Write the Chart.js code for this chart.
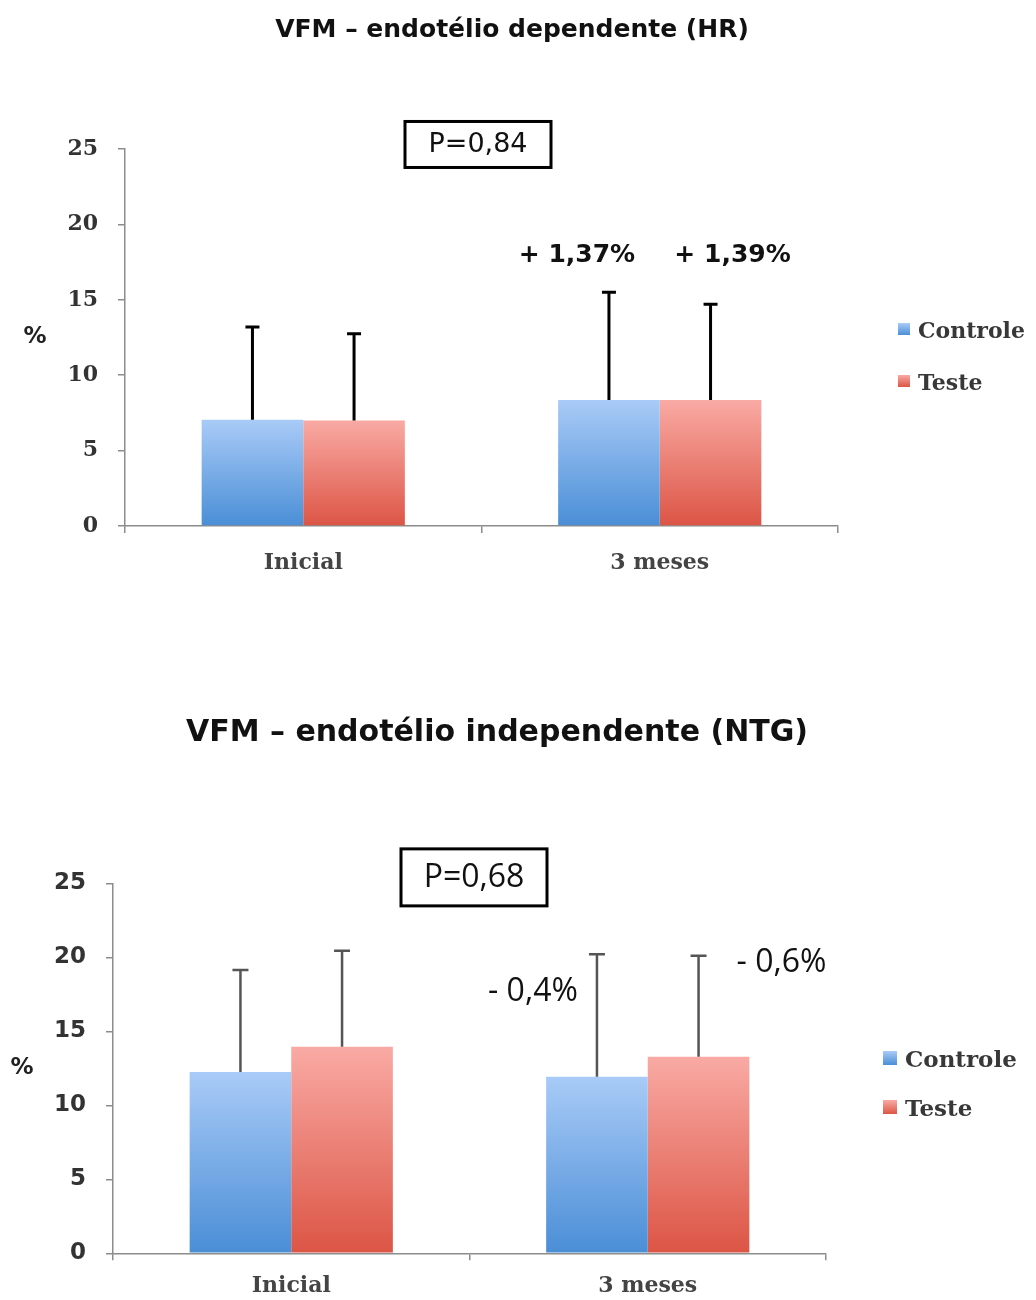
<!DOCTYPE html>
<html>
<head>
<meta charset="utf-8">
<script src="https://cdn.jsdelivr.net/npm/chart.js@4/dist/chart.umd.min.js"></script>
<style>
  body { margin: 0; background: #fff; }
  #wrap { position: relative; width: 1036px; height: 1300px; overflow: hidden; }
  canvas { position: absolute; left: 0; }
  #hr { top: 0; }
  #ntg { top: 640px; }
</style>
</head>
<body>
<div id="wrap">
  <canvas id="hr" width="1036" height="600"></canvas>
  <canvas id="ntg" width="1036" height="660"></canvas>
</div>
<script>
// data
const categories = ['Inicial', '3 meses'];
const seriesNames = ['Controle', 'Teste'];
const yTicks = [0, 5, 10, 15, 20, 25];

// endotélio dependente (HR)
const hrControle = [7.05, 8.35];
const hrTeste = [7.0, 8.35];
const hrControleErr = [13.2, 15.5];   // top of the error bar
const hrTesteErr = [12.75, 14.7];
const hrChange = ['+ 1,37%', '+ 1,39%'];
const hrP = 'P=0,84';

// endotélio independente (NTG)
const ntgControle = [12.25, 11.93];
const ntgTeste = [13.95, 13.28];
const ntgControleErr = [19.15, 20.2];
const ntgTesteErr = [20.45, 20.1];
const ntgChange = ['- 0,4%', '- 0,6%'];
const ntgP = 'P=0,68';

const blue = ['#a9cbf7', '#4a8ed6'];
const red = ['#f9aaa4', '#dc5545'];

function barGradient(c) {
    return function (ctx) {
        const chart = ctx.chart;
        if (!chart.chartArea || ctx.type !== 'data') return c[1];
        const y = chart.scales.y;
        const g = chart.ctx.createLinearGradient(0, y.getPixelForValue(ctx.raw), 0, y.getPixelForValue(0));
        g.addColorStop(0, c[0]);
        g.addColorStop(1, c[1]);
        return g;
    };
}

// error bars (upper half only) from dataset.errTop
const errorBars = {
    id: 'errorBars',
    afterDatasetsDraw(chart, args, opts) {
        const ctx = chart.ctx, y = chart.scales.y;
        ctx.save();
        ctx.strokeStyle = opts.color;
        ctx.lineWidth = opts.width;
        chart.data.datasets.forEach((ds, di) => {
            chart.getDatasetMeta(di).data.forEach((bar, i) => {
                const top = y.getPixelForValue(ds.errTop[i]);
                ctx.beginPath();
                ctx.moveTo(bar.x, bar.y);
                ctx.lineTo(bar.x, top);
                ctx.moveTo(bar.x - opts.cap / 2, top);
                ctx.lineTo(bar.x + opts.cap / 2, top);
                ctx.stroke();
            });
        });
        ctx.restore();
    }
};

// title, P box, change labels, "%" and the legend
const notes = {
    id: 'notes',
    afterDraw(chart, args, o) {
        const ctx = chart.ctx, x = chart.scales.x, y = chart.scales.y, area = chart.chartArea;
        ctx.save();
        ctx.textAlign = 'center';
        ctx.textBaseline = 'middle';

        // title
        ctx.fillStyle = '#111';
        ctx.font = o.titleFont;
        ctx.fillText(o.title, o.titleX, o.titleY);

        // P box
        const px = x.getPixelForValue(0.5) + o.pShift, py = y.getPixelForValue(o.pAt);
        ctx.fillStyle = '#fff';
        ctx.fillRect(px - o.pBox[0] / 2, py - o.pBox[1] / 2, o.pBox[0], o.pBox[1]);
        ctx.strokeStyle = '#000';
        ctx.lineWidth = 3;
        ctx.strokeRect(px - o.pBox[0] / 2, py - o.pBox[1] / 2, o.pBox[0], o.pBox[1]);
        ctx.fillStyle = '#111';
        ctx.font = o.pFont;
        ctx.fillText(o.pText, px, py + 1);

        // change labels over the 3 meses bars
        ctx.font = o.changeFont;
        o.change.forEach((t, di) => {
            const bar = chart.getDatasetMeta(di).data[1];
            ctx.fillText(t, bar.x + o.changeShift[di], y.getPixelForValue(o.changeAt[di]));
        });

        // "%" axis title
        ctx.font = o.unitFont;
        ctx.fillStyle = '#222';
        ctx.fillText('%', area.left - o.unitGap, y.getPixelForValue(12.5));

        // legend
        ctx.textAlign = 'left';
        ctx.font = o.legendFont;
        chart.data.datasets.forEach((ds, di) => {
            const lx = area.right + o.legendGap;
            const ly = o.legendY[di];
            const s = o.legendBox;
            const g = ctx.createLinearGradient(0, ly - s / 2 - 3, 0, ly + s / 2 - 3);
            g.addColorStop(0, ds.colors[0]);
            g.addColorStop(1, ds.colors[1]);
            ctx.fillStyle = g;
            ctx.fillRect(lx, ly - s / 2 - 3, s, s);
            ctx.fillStyle = '#383838';
            ctx.fillText(ds.label, lx + s + 8, ly);
        });
        ctx.restore();
    }
};

function noPad(sc) {
    sc.paddingTop = 0;
    sc.paddingBottom = 0;
    sc.paddingLeft = 0;
    sc.paddingRight = 0;
}

function makeChart(id, s) {
    return new Chart(document.getElementById(id), {
        type: 'bar',
        data: {
            labels: categories,
            datasets: [
                { label: seriesNames[0], data: s.controle, errTop: s.controleErr, colors: blue, backgroundColor: barGradient(blue) },
                { label: seriesNames[1], data: s.teste, errTop: s.testeErr, colors: red, backgroundColor: barGradient(red) }
            ]
        },
        options: {
            responsive: false,
            animation: false,
            layout: { padding: { left: 0, right: s.padRight, top: s.padTop, bottom: 0 } },
            datasets: { bar: { categoryPercentage: 0.57, barPercentage: 1.0 } },
            scales: {
                x: {
                    afterFit: (sc) => { sc.height = s.xHeight; noPad(sc); },
                    border: { color: '#8c8c8c', width: 1.5 },
                    grid: { drawOnChartArea: false, tickLength: 7, color: '#8c8c8c', lineWidth: 1.5 },
                    ticks: { color: '#444', padding: s.xPad, font: s.xFont }
                },
                y: {
                    min: 0,
                    max: 25,
                    afterFit: (sc) => { sc.width = s.yWidth; noPad(sc); },
                    afterBuildTicks: (sc) => { sc.ticks = yTicks.map(v => ({ value: v })); },
                    border: { color: '#8c8c8c', width: 1.5 },
                    grid: { drawOnChartArea: false, tickLength: 7, color: '#8c8c8c', lineWidth: 1.5 },
                    ticks: { color: '#333', padding: 20, font: s.yFont }
                }
            },
            plugins: {
                legend: { display: false },
                tooltip: { enabled: false },
                title: { display: false },
                errorBars: s.err,
                notes: s.notes
            }
        },
        plugins: [errorBars, notes]
    });
}

makeChart('hr', {
    controle: hrControle, teste: hrTeste, controleErr: hrControleErr, testeErr: hrTesteErr,
    padTop: 149, padRight: 198, xHeight: 74, yWidth: 125, xPad: 17,
    xFont: { family: 'DejaVu Serif', size: 22, weight: 'bold' },
    yFont: { family: 'DejaVu Serif', size: 22, weight: 'bold' },
    err: { color: '#000', width: 3, cap: 14 },
    notes: {
        title: 'VFM – endotélio dependente (HR)', titleFont: 'bold 25px "DejaVu Sans"', titleX: 512, titleY: 30,
        pText: hrP, pAt: 25.3, pShift: -3.5, pBox: [146, 46], pFont: '27px "DejaVu Sans"',
        change: hrChange, changeAt: [17.97, 17.97], changeShift: [-32, 22],
        changeFont: 'bold 25px "DejaVu Sans"',
        unitFont: 'bold 23px "DejaVu Sans"', unitGap: 90,
        legendFont: 'bold 22px "DejaVu Serif"', legendGap: 60, legendY: [332, 384], legendBox: 12
    }
});

makeChart('ntg', {
    controle: ntgControle, teste: ntgTeste, controleErr: ntgControleErr, testeErr: ntgTesteErr,
    padTop: 243.3, padRight: 210, xHeight: 46.7, yWidth: 113, xPad: 13,
    xFont: { family: 'DejaVu Serif', size: 22, weight: 'bold' },
    yFont: { family: 'DejaVu Sans', size: 23, weight: 'bold' },
    err: { color: '#555', width: 2.5, cap: 16 },
    notes: {
        title: 'VFM – endotélio independente (NTG)', titleFont: 'bold 30px "DejaVu Sans"', titleX: 497, titleY: 93,
        pText: ntgP, pAt: 25.4, pShift: 4.5, pBox: [146, 57], pFont: '32px "Open Sans"',
        change: ntgChange, changeAt: [17.65, 19.6], changeShift: [-64, 83],
        changeFont: '32px "Open Sans"',
        unitFont: 'bold 23px "DejaVu Sans"', unitGap: 91,
        legendFont: 'bold 23px "DejaVu Serif"', legendGap: 57, legendY: [421, 470], legendBox: 14
    }
});
</script>
</body>
</html>
